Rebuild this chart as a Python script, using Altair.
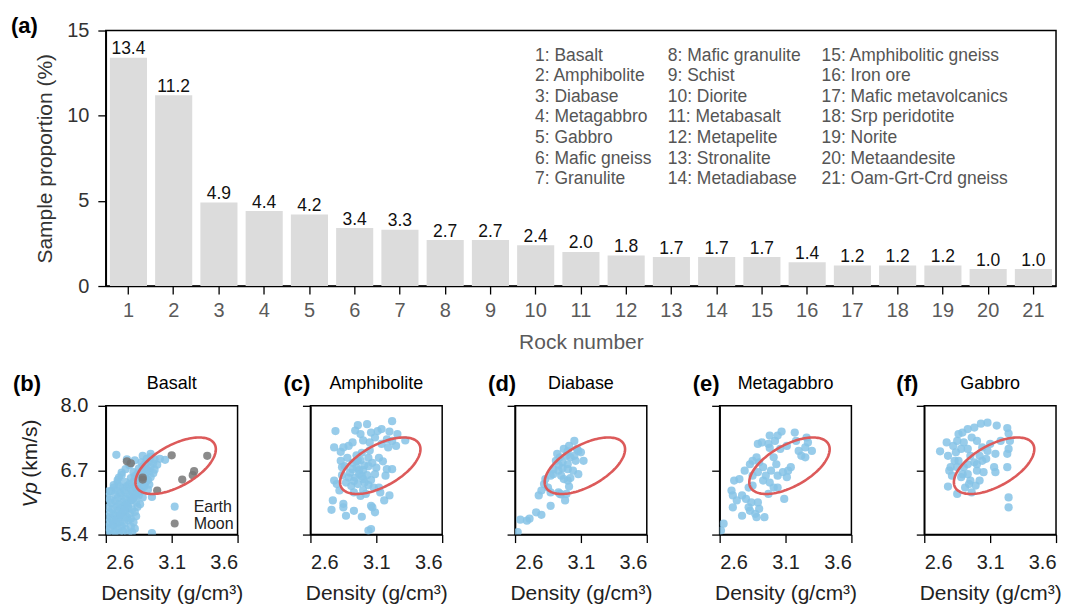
import altair as alt
import numpy as np
import pandas as pd

FONT = "Liberation Sans"
BLUE = "#86c3e6"
GRAY = "#777777"
RED = "#dc5a5a"
BAR = "#dcdcdc"

# ---------------- panel (a) data ----------------
rock_numbers = list(range(1, 22))
rock_names = ["Basalt", "Amphibolite", "Diabase", "Metagabbro", "Gabbro", "Mafic gneiss",
              "Granulite", "Mafic granulite", "Schist", "Diorite", "Metabasalt", "Metapelite",
              "Stronalite", "Metadiabase", "Amphibolitic gneiss", "Iron ore",
              "Mafic metavolcanics", "Srp peridotite", "Norite", "Metaandesite",
              "Oam-Grt-Crd gneiss"]
proportions = [13.4, 11.2, 4.9, 4.4, 4.2, 3.4, 3.3, 2.7, 2.7, 2.4, 2.0, 1.8, 1.7, 1.7, 1.7,
               1.4, 1.2, 1.2, 1.2, 1.0, 1.0]

# ---------------- scatter data (density g/cm3, Vp km/s) ----------------
basalt_earth_density = [
    2.61, 2.64, 2.67, 2.70, 2.73, 2.77, 2.80, 2.95,
    2.60, 2.63, 2.66, 2.69, 2.72, 2.75, 2.79, 2.82,
    2.62, 2.65, 2.68, 2.71, 2.74, 2.77, 2.81,
    2.61, 2.64, 2.67, 2.70, 2.73, 2.76, 2.79, 2.83,
    2.63, 2.66, 2.69, 2.72, 2.75, 2.78, 2.82,
    2.62, 2.65, 2.68, 2.71, 2.74, 2.77, 2.80, 2.84,
    2.64, 2.67, 2.70, 2.73, 2.76, 2.79, 2.83, 2.86,
    2.61, 2.69, 2.72, 2.75, 2.78, 2.81, 2.85, 2.88,
    2.62, 2.71, 2.74, 2.77, 2.80, 2.83, 2.87, 2.95,
    2.73, 2.76, 2.79, 2.82, 2.85, 2.89, 2.92,
    2.75, 2.78, 2.81, 2.84, 2.87, 2.90, 2.93,
    2.79, 2.82, 2.85, 2.88, 2.91, 2.94,
    2.81, 2.84, 2.87, 2.90, 2.93, 2.96,
    2.85, 2.88, 2.91, 2.94, 2.97,
    2.87, 2.90, 2.93, 2.96, 2.99,
    2.91, 2.94, 2.97,
    2.66, 2.69, 2.70, 2.72, 2.75, 2.64, 2.67, 2.78, 2.82, 2.70, 2.68,
    2.68, 2.94, 3.01, 3.05, 2.76, 2.88,
    2.63, 2.66, 2.69, 2.72, 2.65, 2.68, 2.71, 2.74, 2.77, 2.80, 2.83, 2.86, 2.89, 2.92]
basalt_earth_vp = [
    5.44, 5.42, 5.46, 5.43, 5.47, 5.42, 5.45, 5.43,
    5.55, 5.52, 5.58, 5.53, 5.57, 5.51, 5.56, 5.52,
    5.64, 5.68, 5.62, 5.66, 5.63, 5.69, 5.65,
    5.76, 5.73, 5.78, 5.74, 5.79, 5.75, 5.72, 5.77,
    5.85, 5.82, 5.88, 5.84, 5.87, 5.83, 5.86,
    5.95, 5.92, 5.97, 5.93, 5.98, 5.94, 5.91, 5.96,
    6.04, 6.08, 6.02, 6.06, 6.03, 6.09, 6.05, 6.01,
    6.16, 6.14, 6.18, 6.12, 6.17, 6.13, 6.19, 6.15,
    6.27, 6.24, 6.29, 6.22, 6.27, 6.23, 6.28, 6.16,
    6.34, 6.38, 6.33, 6.37, 6.32, 6.36, 6.31,
    6.46, 6.42, 6.47, 6.43, 6.48, 6.44, 6.41,
    6.54, 6.58, 6.53, 6.57, 6.52, 6.56,
    6.66, 6.62, 6.67, 6.63, 6.68, 6.64,
    6.73, 6.77, 6.72, 6.76, 6.71,
    6.86, 6.83, 6.88, 6.84, 6.81,
    6.93, 6.97, 6.92,
    6.35, 6.45, 6.55, 6.65, 6.72, 6.28, 6.21, 6.80, 6.90, 6.38, 6.30,
    7.01, 7.03, 6.93, 6.91, 6.92, 6.99,
    6.10, 6.40, 6.50, 6.60, 5.60, 5.70, 5.80, 5.90, 6.00, 6.10, 6.20, 6.30, 6.40, 6.50]
basalt_moon_density = [2.76, 2.79, 2.88, 2.88, 2.99, 3.10, 3.18, 3.26, 3.27, 3.37]
basalt_moon_vp = [6.88, 6.84, 6.55, 6.51, 6.29, 7.00, 6.51, 6.60, 6.68, 6.99]

amph_density = [
    2.96, 3.03, 3.22, 2.79, 2.94, 2.98, 3.06, 3.11, 3.14, 3.20, 3.26, 3.32, 3.22, 3.25, 3.18,
    2.85, 2.78, 2.83, 2.89, 2.92, 3.00, 3.05, 3.09, 3.14, 3.19,
    2.88, 2.92, 2.95, 2.98, 3.01, 3.04, 3.07, 3.10, 2.90, 2.94, 2.97, 3.00, 3.03, 3.06, 3.09,
    2.87, 2.91, 2.96, 3.00, 3.04, 3.08, 2.93, 2.98, 3.02, 2.86, 2.84, 2.99, 3.05, 2.95, 3.12,
    3.15, 3.18, 3.22, 3.17, 2.78, 2.80, 2.82, 2.83, 2.84,
    2.77, 2.85, 2.85, 2.76, 2.87, 2.93, 2.99, 3.07, 3.09, 3.06, 3.16, 3.20, 3.04, 3.06, 3.13,
    3.12, 2.92, 2.96, 3.00, 3.04, 2.89, 2.93, 2.97, 3.01, 2.95, 2.99]
amph_vp = [
    7.61, 7.63, 7.69, 7.49, 7.50, 7.43, 7.46, 7.49, 7.53, 7.48, 7.43, 7.30, 7.29, 7.19, 7.32,
    7.16, 7.16, 7.07, 7.19, 7.26, 7.30, 7.26, 7.36, 7.23, 7.16,
    6.95, 6.85, 6.75, 6.90, 6.80, 6.95, 6.85, 6.75, 6.65, 6.55, 6.62, 6.70, 6.60, 6.50, 6.62,
    6.45, 6.38, 6.42, 6.30, 6.40, 6.35, 6.25, 6.18, 6.22, 6.78, 6.60, 7.05, 7.10, 7.00, 6.95,
    6.88, 6.72, 6.72, 6.59, 6.49, 6.42, 6.29, 6.89, 6.76,
    6.09, 6.02, 5.95, 5.90, 5.78, 5.88, 5.76, 5.95, 5.85, 5.98, 6.09, 6.19, 5.48, 5.51, 6.25,
    6.35, 6.72, 6.90, 6.52, 6.78, 6.55, 6.48, 6.70, 6.45, 6.88, 6.58]

diabase_density = [
    2.62, 2.64, 2.69, 2.71, 2.76, 2.80, 2.87, 2.78, 2.80, 2.82, 2.83, 2.87, 2.89, 2.98, 2.99,
    3.01, 3.00, 2.95, 2.93, 2.96, 2.91, 2.94, 2.97, 3.01, 3.05, 3.07, 3.10, 3.12, 3.08, 3.04,
    3.00, 3.02, 2.99, 3.05, 2.96, 2.93, 2.89, 3.06, 2.92, 3.00, 3.08, 3.02, 2.97, 2.95, 2.85,
    2.87, 2.93, 3.00, 2.94]
diabase_vp = [
    5.45, 5.70, 5.68, 5.72, 5.85, 5.80, 5.98, 6.19, 6.29, 6.42, 6.52, 6.59, 6.62, 6.09, 6.22,
    6.37, 6.49, 6.21, 6.69, 6.74, 6.89, 6.96, 7.13, 7.19, 7.29, 7.13, 7.06, 6.89, 6.62, 6.69,
    6.82, 6.96, 6.99, 6.99, 6.86, 6.81, 6.72, 6.89, 7.03, 7.08, 7.09, 6.54, 6.52, 6.59, 6.35,
    6.25, 6.25, 6.72, 6.22]

metagabbro_density = [
    2.63, 2.61, 2.77, 2.83, 2.88, 2.90, 2.94, 2.89, 2.84, 2.80, 2.77, 2.70, 2.69, 2.71, 2.75,
    2.79, 2.85, 2.82, 2.85, 2.89, 2.90, 2.85, 2.83, 2.88, 2.89, 2.92, 2.97, 2.98, 3.02, 3.04,
    3.07, 2.98, 3.01, 3.03, 2.99, 2.95, 2.93, 2.98, 3.04, 3.08, 3.12, 3.14, 3.11, 3.04, 3.01,
    2.97, 3.09, 3.17, 3.18, 3.20, 3.22, 3.25, 3.26, 3.27, 3.30, 3.25, 2.70, 2.73, 2.82, 2.87,
    3.06, 3.11, 2.93]
metagabbro_vp = [
    5.62, 5.48, 5.78, 5.88, 5.75, 5.92, 5.75, 6.05, 6.05, 6.12, 6.19, 6.19, 6.29, 6.49, 6.52,
    6.69, 6.59, 6.35, 6.39, 6.66, 6.86, 6.89, 6.82, 6.96, 7.23, 7.26, 7.23, 7.40, 7.29, 7.40,
    7.48, 7.15, 6.96, 6.82, 6.69, 6.59, 6.49, 6.45, 6.59, 6.66, 6.69, 6.76, 6.56, 6.35, 6.35,
    6.22, 6.12, 7.46, 7.29, 7.09, 6.99, 7.16, 7.36, 7.26, 7.09, 6.96, 5.95, 6.09, 5.95, 5.82,
    7.13, 7.19, 6.76]

gabbro_density = [
    2.72, 2.77, 2.78, 2.82, 2.80, 2.81, 2.78, 2.85, 2.86, 2.89, 2.93, 2.98, 3.03, 3.08, 3.15,
    3.23, 3.24, 3.25, 3.24, 3.23, 3.14, 3.08, 3.04, 3.00, 2.96, 2.90, 2.88, 2.86, 2.90, 2.93,
    2.88, 2.91, 2.96, 2.99, 2.95, 3.00, 2.98, 2.95, 3.02, 3.04, 3.05, 3.02, 3.13, 3.14, 3.23,
    3.24, 3.24, 2.93, 2.85, 2.84, 2.83, 2.93, 3.00, 3.10, 3.18, 2.79, 2.85, 2.89, 2.94, 3.07]
gabbro_vp = [
    7.08, 7.26, 6.99, 7.19, 6.76, 6.59, 6.37, 6.22, 7.43, 7.46, 7.53, 7.56, 7.64, 7.66, 7.60,
    7.55, 7.44, 7.29, 7.13, 7.03, 7.03, 7.09, 7.16, 7.29, 7.36, 7.26, 7.13, 6.89, 6.76, 6.62,
    6.56, 6.35, 6.25, 6.39, 6.49, 6.69, 6.86, 6.99, 6.99, 6.89, 6.66, 6.49, 6.76, 6.66, 6.76,
    6.15, 5.95, 7.13, 7.29, 7.06, 6.89, 6.82, 6.82, 7.23, 7.29, 6.69, 6.76, 6.62, 6.42, 6.93]

# lunar-basalt reference ellipse (centre in data units, axes as fraction of panel size)
ELLIPSE_CENTER_DENSITY = 3.13
ELLIPSE_CENTER_VP = 6.79
ELLIPSE_SEMI_MAJOR = 0.34
ELLIPSE_SEMI_MINOR = 0.16
ELLIPSE_ANGLE_DEG = 30
DENSITY_RANGE = [2.6, 3.6]
VP_RANGE = [5.4, 8.0]

# ---------------- panel (a) ----------------
bar_df = pd.DataFrame({"rock": rock_numbers, "pct": proportions})
one = pd.DataFrame({"k": [0]})

x_top = alt.X("rock:O", title="Rock number",
              scale=alt.Scale(paddingInner=0.18, paddingOuter=0.09),
              axis=alt.Axis(labelAngle=0, labelColor="#5a5a5a", titleColor="#5a5a5a",
                            labelFontSize=20, titleFontSize=21, tickSize=8, labelPadding=7,
                            titlePadding=11, titleFontWeight="normal"))
y_top = alt.Y("pct:Q", title="Sample proportion (%)",
              scale=alt.Scale(domain=[0, 15], nice=False),
              axis=alt.Axis(values=[0, 5, 10, 15], labelColor="#333333", titleColor="#333333",
                            labelFontSize=20, titleFontSize=21, tickSize=8, labelPadding=9,
                            titlePadding=11, titleFontWeight="normal"))

bars = alt.Chart(bar_df).mark_bar(color=BAR).encode(x=x_top, y=y_top)
bar_labels = alt.Chart(bar_df).mark_text(baseline="alphabetic", dy=-3.5, fontSize=17.5,
                                         color="#111111").encode(
    x=alt.X("rock:O"), y=alt.Y("pct:Q"), text=alt.Text("pct:Q", format=".1f"))

name_layers = []
col_x = [430, 563, 717]
for c in range(3):
    lines = [f"{rock_numbers[i]}: {rock_names[i]}" for i in range(c * 7, c * 7 + 7)]
    name_layers.append(
        alt.Chart(one).mark_text(text="\n".join(lines), lineBreak="\n", lineHeight=20.55,
                                 align="left", baseline="alphabetic", fontSize=17.5,
                                 color="#555555").encode(x=alt.value(col_x[c]), y=alt.value(30.5)))

a_label = alt.Chart(one).mark_text(text="(a)", fontWeight="bold", fontSize=22, align="left",
                                   baseline="middle", color="black").encode(
    x=alt.value(-95), y=alt.value(-5))

top = alt.layer(bars, bar_labels, *name_layers, a_label).properties(width=952, height=256)

# ---------------- panels (b)-(f) ----------------
t = np.linspace(0, 2 * np.pi, 145)
th = np.deg2rad(ELLIPSE_ANGLE_DEG)
ex = ELLIPSE_SEMI_MAJOR * np.cos(t) * np.cos(th) - ELLIPSE_SEMI_MINOR * np.sin(t) * np.sin(th)
ey = ELLIPSE_SEMI_MAJOR * np.cos(t) * np.sin(th) + ELLIPSE_SEMI_MINOR * np.sin(t) * np.cos(th)
ell_df = pd.DataFrame({
    "i": np.arange(len(t)),
    "density": ELLIPSE_CENTER_DENSITY + ex * (DENSITY_RANGE[1] - DENSITY_RANGE[0]),
    "vp": ELLIPSE_CENTER_VP + ey * (VP_RANGE[1] - VP_RANGE[0]),
})

dens_scale = alt.Scale(domain=DENSITY_RANGE, nice=False, zero=False)
vp_scale = alt.Scale(domain=VP_RANGE, nice=False, zero=False)
x_axis = alt.Axis(values=[2.6, 3.1, 3.6], format=".1f", title="Density (g/cm³)",
                  labelFontSize=20, titleFontSize=21, labelColor="#222222", titleColor="#222222",
                  tickSize=8, labelPadding=10, titlePadding=10, titleFontWeight="normal")


def scatter_panel(title, letter, letter_x, earth_d, earth_v, moon_d=None, moon_v=None,
                  first=False):
    y_axis = alt.Axis(values=[5.4, 6.7, 8.0], format=".1f", title=None, labels=first,
                      labelFontSize=20, labelColor="#222222", tickSize=8, labelPadding=10)
    dens = list(earth_d) + list(moon_d or [])
    vps = list(earth_v) + list(moon_v or [])
    grp = ["Earth"] * len(earth_d) + ["Moon"] * len(moon_d or [])
    df = pd.DataFrame({"density": dens, "vp": vps, "group": grp})
    legend = None
    if first:
        legend = alt.Legend(title=None, orient="bottom-right", offset=3, padding=0,
                            labelFontSize=16, labelColor="#222222", symbolSize=65,
                            symbolType="circle", labelOffset=11, rowPadding=1,
                            symbolOpacity=0.85, symbolStrokeWidth=0)
    pts = alt.Chart(df).mark_circle(size=68, opacity=0.85, clip=True).encode(
        x=alt.X("density:Q", scale=dens_scale, axis=x_axis),
        y=alt.Y("vp:Q", scale=vp_scale, axis=y_axis),
        color=alt.Color("group:N", scale=alt.Scale(domain=["Earth", "Moon"], range=[BLUE, GRAY]),
                        legend=legend),
    )
    ell = alt.Chart(ell_df).mark_line(color=RED, strokeWidth=2.6).encode(
        x="density:Q", y="vp:Q", order="i:Q")
    lab = alt.Chart(one).mark_text(text=letter, fontWeight="bold", fontSize=22, align="left",
                                   baseline="middle", color="black").encode(
        x=alt.value(letter_x), y=alt.value(-22))
    ttl = alt.Chart(one).mark_text(text=title, fontSize=18, align="center",
                                   baseline="middle", color="black").encode(
        x=alt.value(66), y=alt.value(-22))
    layers = [pts, ell, lab, ttl]
    if first:
        layers.append(alt.Chart(one).mark_text(text="Vp", fontStyle="italic", fontSize=21,
                                               angle=270, align="left", baseline="middle",
                                               color="#222222").encode(
            x=alt.value(-75), y=alt.value(102)))
        layers.append(alt.Chart(one).mark_text(text="(km/s)", fontSize=21, angle=270,
                                               align="left", baseline="middle",
                                               color="#222222").encode(
            x=alt.value(-75), y=alt.value(72)))
    return alt.layer(*layers).properties(width=132, height=129)


panels = [
    scatter_panel("Basalt", "(b)", -93, basalt_earth_density, basalt_earth_vp,
                  basalt_moon_density, basalt_moon_vp, first=True),
    scatter_panel("Amphibolite", "(c)", -27, amph_density, amph_vp),
    scatter_panel("Diabase", "(d)", -27, diabase_density, diabase_vp),
    scatter_panel("Metagabbro", "(e)", -27, metagabbro_density, metagabbro_vp),
    scatter_panel("Gabbro", "(f)", -28, gabbro_density, gabbro_vp),
]

bottom = alt.hconcat(*panels, spacing=73, bounds="flush").resolve_scale(
    color="independent").resolve_legend(color="independent")

chart = alt.vconcat(top, bottom, spacing=120, bounds="flush").resolve_scale(
    color="independent").resolve_legend(color="independent").properties(
    padding={"left": 2, "top": 5, "right": 5, "bottom": 2}
).configure(font=FONT).configure_view(stroke="black", strokeWidth=1.5).configure_axis(
    grid=False, domainColor="black", domainWidth=1.5, tickColor="black", tickWidth=1.3,
    labelFont=FONT, titleFont=FONT
).configure_title(font=FONT)

chart.save("out.html", embed_options={"renderer": "svg", "actions": False})
